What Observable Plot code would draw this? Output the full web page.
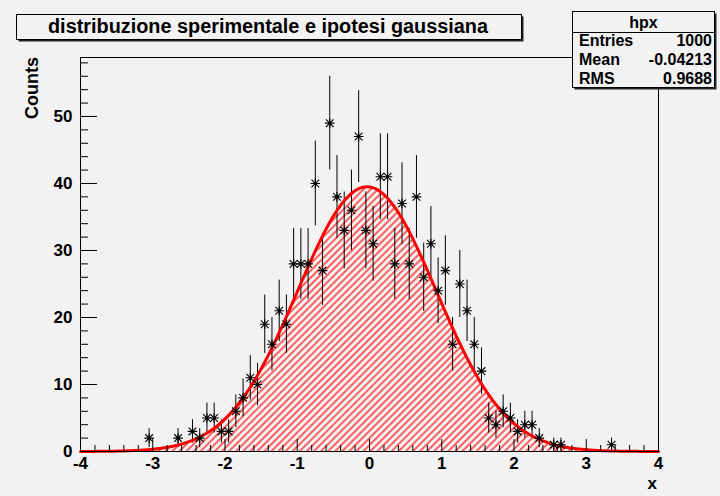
<!DOCTYPE html>
<html><head><meta charset="utf-8">
<script src="https://cdn.jsdelivr.net/npm/d3@7"></script>
<script src="https://cdn.jsdelivr.net/npm/@observablehq/plot@0.6"></script>
<style>
html,body{margin:0;padding:0;background:#f2f2f2;}
#chart svg{display:block;}
</style></head><body><div id="chart"></div>
<script>
// ---- data ----
const titleText = "distribuzione sperimentale e ipotesi gaussiana";
const statsName = "hpx";
const statsLabels = ["Entries", "Mean", "RMS"];
const statsValues = ["1000", "-0.04213", "0.9688"];
const xAxisTitle = "x";
const yAxisTitle = "Counts";

// bin centres (bin width 0.1, range -4..4) of the non-empty bins
const binCenters = [-3.05, -2.65, -2.45, -2.35, -2.25, -2.15, -2.05, -1.95, -1.85, -1.75,
  -1.65, -1.55, -1.45, -1.35, -1.25, -1.15, -1.05, -0.95, -0.85, -0.75,
  -0.65, -0.55, -0.45, -0.35, -0.25, -0.15, -0.05, 0.05, 0.15, 0.25,
  0.35, 0.45, 0.55, 0.65, 0.75, 0.85, 0.95, 1.05, 1.15, 1.25,
  1.35, 1.45, 1.55, 1.65, 1.75, 1.85, 1.95, 2.05, 2.15, 2.25,
  2.35, 2.55, 2.65, 3.35];
const binCounts = [2, 2, 3, 2, 5, 5, 3, 3, 6, 8,
  11, 10, 19, 16, 21, 19, 28, 28, 28, 40,
  27, 49, 38, 33, 36, 47, 33, 31, 41, 41,
  28, 37, 28, 38, 26, 31, 24, 27, 16, 25,
  21, 16, 12, 5, 4, 6, 5, 3, 4, 4,
  2, 1, 1, 1];

// gaussian hypothesis parameters
const gaussConstant = 39.5;
const gaussMean = -0.035;
const gaussSigma = 0.96;

const xRange = [-4, 4];
const yRange = [0, 58.8];
const xMajorTicks = [-4, -3, -2, -1, 0, 1, 2, 3, 4];
const yMajorTicks = [0, 10, 20, 30, 40, 50];

// ---- derived tables ----
const points = binCenters.map((x, i) => ({x, y: binCounts[i], err: Math.sqrt(binCounts[i])}));
const curve = d3.range(xRange[0], xRange[1] + 1e-9, 0.02).map(x => ({
  x, y: gaussConstant * Math.exp(-0.5 * ((x - gaussMean) / gaussSigma) ** 2)
}));
const xMinorTicks = d3.range(xRange[0], xRange[1] + 1e-9, 0.2).filter(v => Math.abs(v - Math.round(v)) > 1e-6);
const yMinorTicks = d3.range(0, yRange[1], 2).filter(v => v % 10 !== 0);

const asterisk = {
  draw(context, size) {
    const r = Math.sqrt(size / Math.PI);
    const d = r * 0.8;
    context.moveTo(-r, 0); context.lineTo(r, 0);
    context.moveTo(0, -r); context.lineTo(0, r);
    context.moveTo(-d, -d); context.lineTo(d, d);
    context.moveTo(-d, d); context.lineTo(d, -d);
  }
};

const bg = "#f2f2f2";
const chart = Plot.plot({
  width: 720, height: 496,
  marginLeft: 80, marginRight: 62, marginTop: 57, marginBottom: 45,
  x: {domain: xRange},
  y: {domain: yRange},
  style: {background: bg, fontFamily: "'Liberation Sans', Arial, sans-serif", fontWeight: "bold", fontSize: "17px", color: "black"},
  marks: [
    Plot.areaY(curve, {x: "x", y: "y", fill: "url(#hatch)"}),
    Plot.ruleX(points, {x: "x", y1: d => d.y - d.err, y2: d => d.y + d.err, stroke: "black", strokeWidth: 1}),
    Plot.line(curve, {x: "x", y: "y", stroke: "#ff0000", strokeWidth: 3}),
    Plot.dot(points, {x: "x", y: "y", symbol: asterisk, r: 4.8, stroke: "black", strokeWidth: 1.1}),
    Plot.dot(points, {x: "x", y: "y", r: 1.5, fill: "black", stroke: null}),
    Plot.frame({stroke: "black"}),
    Plot.ruleX(xMinorTicks, {x: d => d, y1: 0, y2: 0, insetTop: -6, stroke: "black"}),
    Plot.ruleX(xMajorTicks, {x: d => d, y1: 0, y2: 0, insetTop: -12, stroke: "black"}),
    Plot.ruleY(yMinorTicks, {y: d => d, x1: xRange[0], x2: xRange[0], insetRight: -8, stroke: "black"}),
    Plot.ruleY(yMajorTicks, {y: d => d, x1: xRange[0], x2: xRange[0], insetRight: -17, stroke: "black"}),
    Plot.axisX(xMajorTicks, {tickSize: 0, tickPadding: 5, tickFormat: d => String(d), label: null}),
    Plot.axisY(yMajorTicks, {tickSize: 0, tickPadding: 8, tickFormat: d => String(d), label: null})
  ]
});
document.getElementById("chart").appendChild(chart);

const svg = d3.select(chart);
const defs = svg.insert("defs", ":first-child");
const pat = defs.append("pattern").attr("id", "hatch")
  .attr("patternUnits", "userSpaceOnUse").attr("width", 5).attr("height", 5)
  .attr("patternTransform", "rotate(45)");
pat.append("line").attr("x1", 1).attr("x2", 1).attr("y1", -1).attr("y2", 6)
  .attr("stroke", "#ff0000").attr("stroke-width", 1.2);

// axis titles
svg.append("text").text(xAxisTitle).attr("x", 657).attr("y", 489)
  .attr("text-anchor", "end").attr("font-size", 17).attr("font-weight", "bold").attr("fill", "black");
svg.append("text").text(yAxisTitle).attr("transform", "translate(38,57) rotate(-90)")
  .attr("text-anchor", "end").attr("font-size", 18).attr("font-weight", "bold").attr("fill", "black");

function pave(x, y, w, h) {
  svg.append("rect").attr("x", x + 2).attr("y", y + 2).attr("width", w).attr("height", h).attr("fill", "#222");
  svg.append("rect").attr("x", x).attr("y", y).attr("width", w).attr("height", h)
    .attr("fill", bg).attr("stroke", "black").attr("stroke-width", 1);
}
// title box
pave(16.5, 14.5, 505, 25);
svg.append("text").text(titleText).attr("x", 268).attr("y", 33)
  .attr("text-anchor", "middle").attr("font-size", 19.5).attr("font-weight", "bold").attr("fill", "black")
  .attr("textLength", 440).attr("lengthAdjust", "spacingAndGlyphs");

// stats box
pave(572.5, 11.5, 142, 76);
svg.append("line").attr("x1", 572.5).attr("x2", 714.5).attr("y1", 32.5).attr("y2", 32.5).attr("stroke", "black");
svg.append("text").text(statsName).attr("x", 643.5).attr("y", 28)
  .attr("text-anchor", "middle").attr("font-size", 16).attr("font-weight", "bold").attr("fill", "black");
statsLabels.forEach((lab, i) => {
  const yy = 46 + i * 19;
  svg.append("text").text(lab).attr("x", 579).attr("y", yy).attr("text-anchor", "start")
    .attr("font-size", 16).attr("font-weight", "bold").attr("fill", "black");
  svg.append("text").text(statsValues[i]).attr("x", 712).attr("y", yy).attr("text-anchor", "end")
    .attr("font-size", 16).attr("font-weight", "bold").attr("fill", "black");
});
</script></body></html>
